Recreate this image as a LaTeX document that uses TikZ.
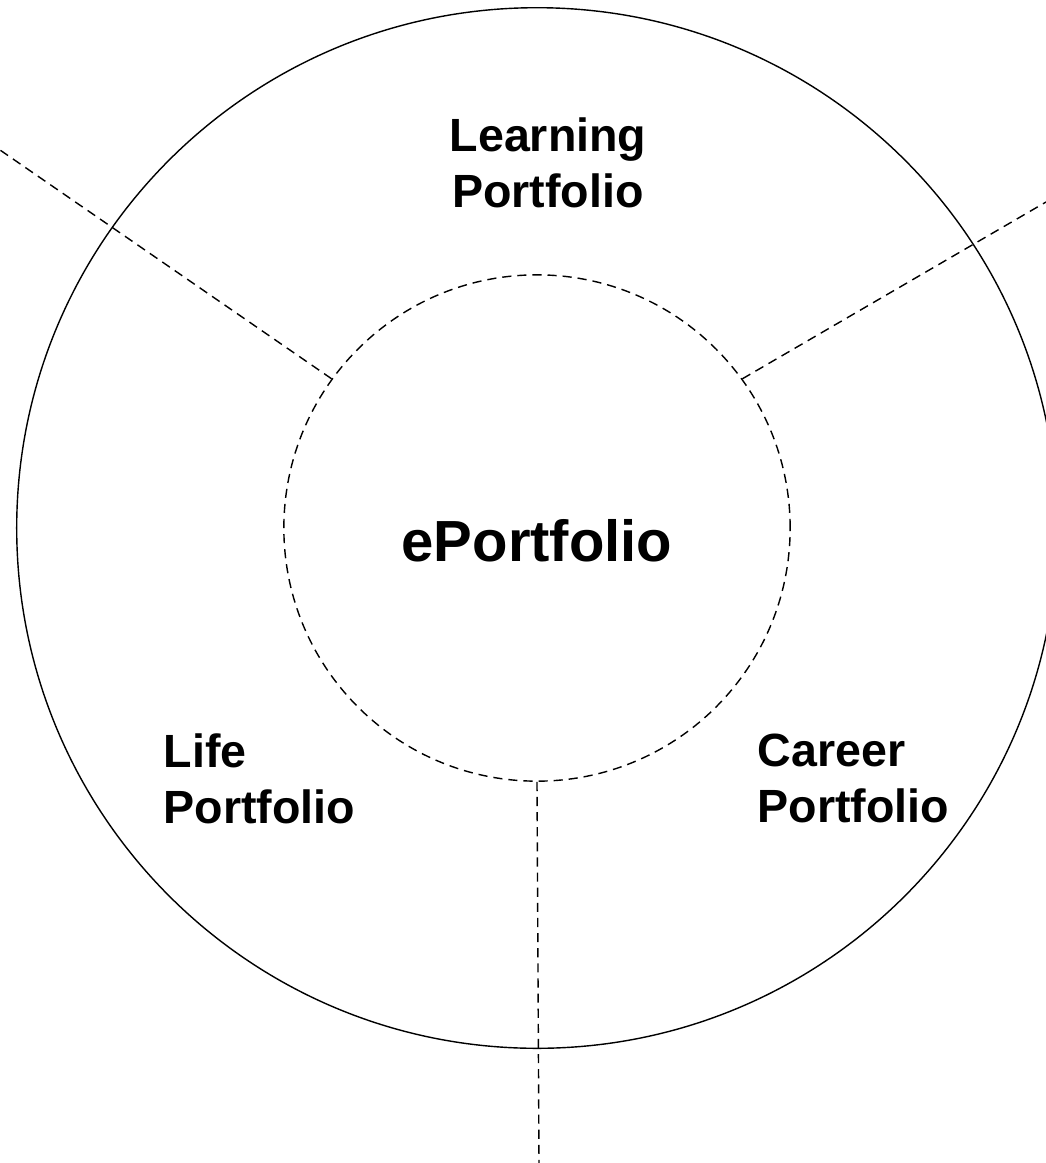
\documentclass[tikz,border=0pt]{standalone}
\usepackage{fontspec}
\setmainfont{Liberation Sans}
\begin{document}
\begin{tikzpicture}[x=0.01cm, y=-0.01cm,
	lbl/.style={font=\bfseries\fontsize{13.25}{15.9}\selectfont, inner sep=0pt},
	spoke/.style={dashed, dash pattern=on 2.6pt off 1.7pt}]
	\clip (0,0) rectangle (1046,1163);
	\node[draw, circle, minimum size=10.4cm, inner sep=0pt] (ring) at (537,528) {};
	\node[draw, circle, spoke, minimum size=5.06cm, inner sep=0pt] (core) at (537,528) {};
	\node[font=\bfseries\fontsize{16.5}{19.8}\selectfont, anchor=base, inner sep=0pt] (eport) at (537,561) {ePortfolio};
	\node[lbl, anchor=north, align=center] (learn) at (548,117) {Learning\\Portfolio};
	\node[lbl, anchor=north west, align=left] (life) at (163,733) {Life\\Portfolio};
	\node[lbl, anchor=north west, align=left] (career) at (757,733) {Career\\Portfolio};
	\coordinate (nw) at (0,150);
	\coordinate (ne) at (1046,202);
	\coordinate (s) at (539,1163);
	\draw[spoke] (core.144) -- (nw);
	\draw[spoke] (core.36) -- (ne);
	\draw[spoke] (core.south) -- (s);
\end{tikzpicture}
\end{document}
